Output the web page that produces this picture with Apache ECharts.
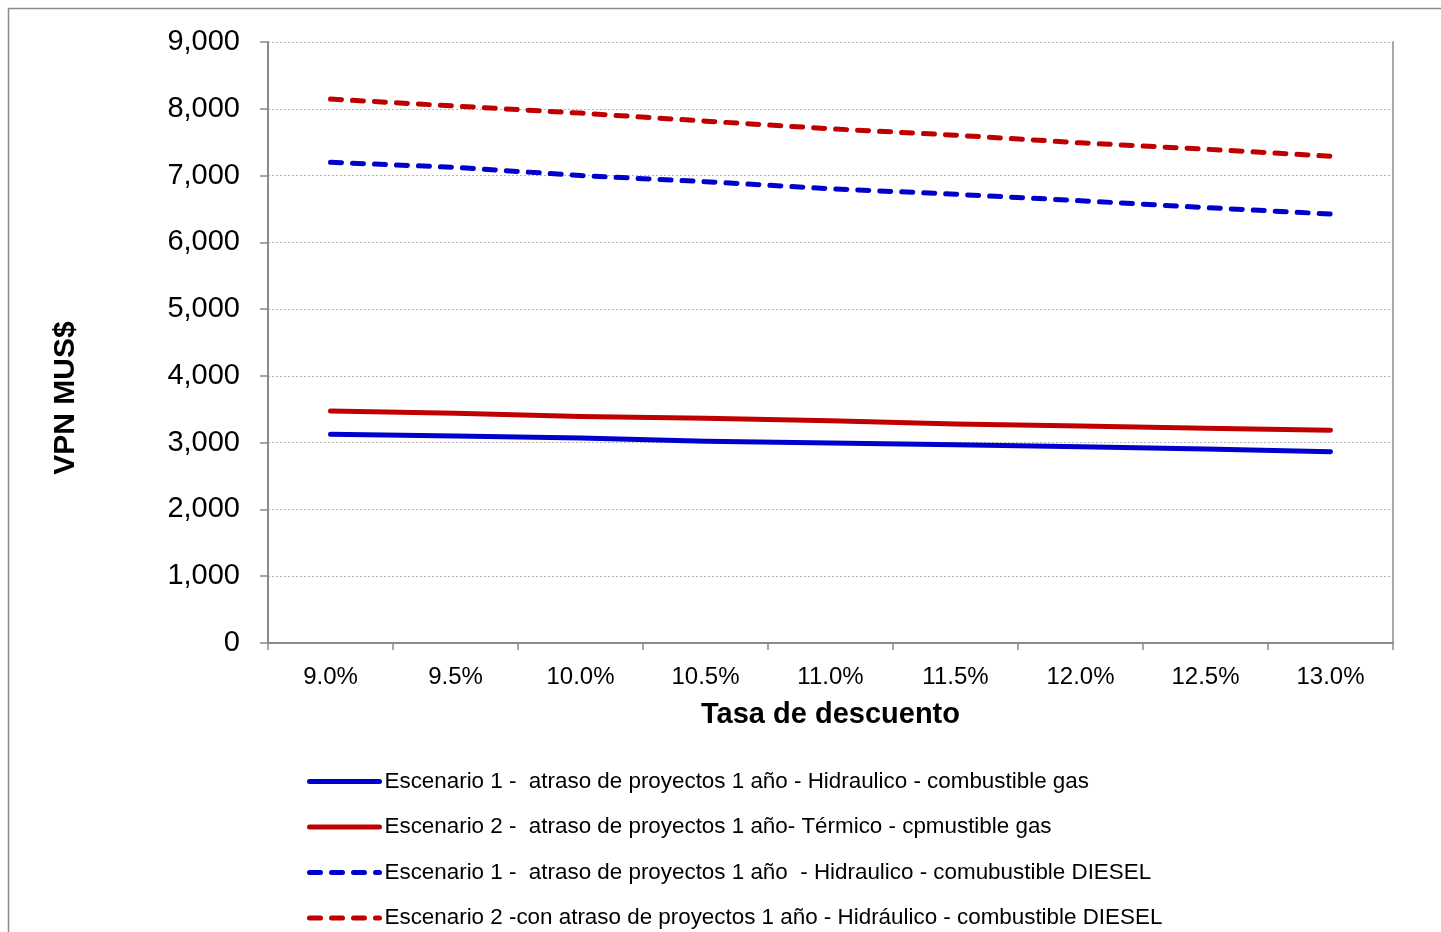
<!DOCTYPE html>
<html>
<head>
<meta charset="utf-8">
<title>VPN vs Tasa de descuento</title>
<script src="https://cdn.jsdelivr.net/npm/echarts@6/dist/echarts.min.js"></script>
<style>
  html, body { margin: 0; padding: 0; background: #ffffff; }
  #chart { width: 1441px; height: 932px; }
</style>
</head>
<body>
<div id="chart"></div>
<script>
// Discount rates on the horizontal axis
const categories = ['9.0%', '9.5%', '10.0%', '10.5%', '11.0%', '11.5%', '12.0%', '12.5%', '13.0%'];

// Net present value (MUS$) for each scenario
const esc1Gas = [3125, 3100, 3070, 3020, 2995, 2970, 2940, 2905, 2865];
const esc2Gas = [3474, 3440, 3390, 3365, 3330, 3280, 3250, 3215, 3185];
const esc1Diesel = [7198, 7123, 7000, 6908, 6803, 6720, 6623, 6520, 6424];
const esc2Diesel = [8146, 8040, 7935, 7815, 7700, 7605, 7490, 7395, 7290];

const seriesNames = [
  'Escenario 1 -  atraso de proyectos 1 año - Hidraulico - combustible gas',
  'Escenario 2 -  atraso de proyectos 1 año- Térmico - cpmustible gas',
  'Escenario 1 -  atraso de proyectos 1 año  - Hidraulico - comubustible DIESEL',
  'Escenario 2 -con atraso de proyectos 1 año - Hidráulico - combustible DIESEL'
];

const yAxisTitle = 'VPN MUS$';
const xAxisTitle = 'Tasa de descuento';

const yMin = 0, yMax = 9000, yStep = 1000;

const BLUE = '#0000CC';
const RED = '#C00000';
const AXIS = '#8a8a8a';
const FONT = '"Liberation Sans", Arial, sans-serif';

const chart = echarts.init(document.getElementById('chart'), null, { renderer: 'canvas' });

function lineSeries(name, data, color, dashed) {
  return {
    name: name,
    type: 'line',
    data: data,
    symbol: 'none',
    yAxisIndex: 0,
    lineStyle: {
      color: color,
      width: 5,
      type: dashed ? [11, 11] : 'solid',
      cap: 'round',
      join: 'round'
    },
    itemStyle: { color: color },
    emphasis: { disabled: true },
    animation: false
  };
}

chart.setOption({
  animation: false,
  backgroundColor: '#ffffff',
  textStyle: { fontFamily: FONT },
  graphic: [{
    type: 'rect',
    shape: { x: 8.5, y: 8.5, width: 1450, height: 940 },
    style: { fill: 'none', stroke: '#8a8a8a', lineWidth: 1.5 },
    silent: true,
    z: -1
  }, {
    // vertical axis title, centred on the chart body rather than the grid
    type: 'text',
    x: 66,
    y: 398,
    rotation: Math.PI / 2,
    style: {
      text: yAxisTitle,
      fontSize: 30,
      fontWeight: 'bold',
      fontFamily: FONT,
      fill: '#000',
      align: 'center',
      verticalAlign: 'middle'
    },
    silent: true
  }],
  grid: { left: 268, right: 48, top: 42, bottom: 289, containLabel: false },
  legend: {
    orient: 'vertical',
    left: 307,
    top: 770,
    padding: 0,
    itemWidth: 70,
    itemHeight: 14,
    itemGap: 22.5,
    // line-only keys: hide the marker dot drawn in the middle of each key
    itemStyle: { opacity: 0 },
    lineStyle: { width: 5, opacity: 1 },
    textStyle: { fontSize: 22.4, color: '#000', fontFamily: FONT, lineHeight: 23 },
    data: seriesNames,
    selectedMode: false
  },
  xAxis: {
    type: 'category',
    data: categories,
    boundaryGap: true,
    name: xAxisTitle,
    nameLocation: 'middle',
    nameGap: 57,
    nameTextStyle: { fontSize: 29, fontWeight: 'bold', color: '#000', fontFamily: FONT },
    axisLine: { show: true, lineStyle: { color: AXIS, width: 2 } },
    axisTick: { show: true, inside: false, length: 7, alignWithLabel: false, lineStyle: { color: AXIS, width: 1.5 } },
    axisLabel: { fontSize: 24, color: '#000', margin: 22, fontFamily: FONT },
    splitLine: { show: false }
  },
  yAxis: [{
    type: 'value',
    min: yMin,
    max: yMax,
    interval: yStep,
    axisLine: { show: true, lineStyle: { color: AXIS, width: 2 } },
    axisTick: { show: true, inside: false, length: 8, lineStyle: { color: AXIS, width: 1.5 } },
    axisLabel: {
      fontSize: 29,
      color: '#000',
      margin: 28,
      fontFamily: FONT,
      formatter: v => v.toLocaleString('en-US')
    },
    splitLine: { show: true, lineStyle: { color: '#b4b4b4', width: 1, type: [2, 2] } }
  }, {
    type: 'value',
    position: 'right',
    min: yMin,
    max: yMax,
    interval: yStep,
    axisLine: { show: true, lineStyle: { color: '#a8a8a8', width: 2 } },
    axisTick: { show: false },
    axisLabel: { show: false },
    splitLine: { show: false }
  }],
  series: [
    lineSeries(seriesNames[0], esc1Gas, BLUE, false),
    lineSeries(seriesNames[1], esc2Gas, RED, false),
    lineSeries(seriesNames[2], esc1Diesel, BLUE, true),
    lineSeries(seriesNames[3], esc2Diesel, RED, true)
  ]
});
</script>
</body>
</html>
